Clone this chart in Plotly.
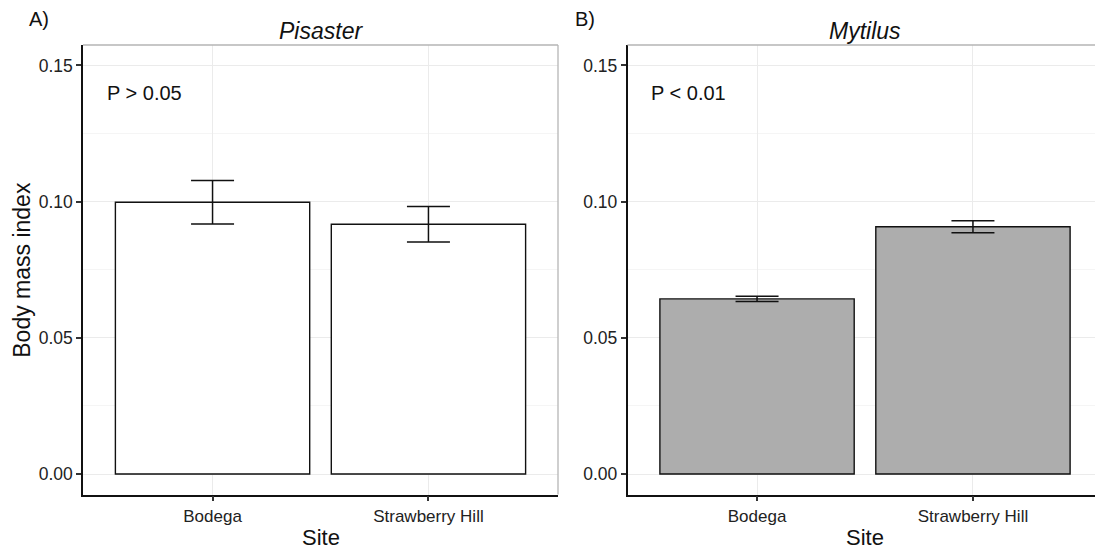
import plotly.graph_objects as go

# Body mass index by site for the two species
sites = ["Bodega", "Strawberry Hill"]
pisaster_mean = [0.0998, 0.0917]
pisaster_se = [0.0080, 0.0065]
mytilus_mean = [0.0643, 0.0908]
mytilus_se = [0.0010, 0.0022]
y_ticks = [0.0, 0.05, 0.10, 0.15]
y_tick_labels = ["0.00", "0.05", "0.10", "0.15"]

W, H = 1095, 552
FONT = "Liberation Sans, Arial, sans-serif"


def px(x):
    return x / W


def py(y):
    return 1 - y / H


# panel geometry (pixels)
A_L, A_R = 83, 558
B_L = 627.5
TOP, BOT = 45, 494.5
full_w = A_R - A_L
b_hi = -0.6 + 2.2 * (W - B_L) / full_w

fig = go.Figure()

bar_common = dict(
    x=sites,
    width=0.9,
    marker_line=dict(color="#111111", width=1.4),
)
err_common = dict(type="data", visible=True, color="#111111", thickness=1.5, width=21.5)

fig.add_trace(go.Bar(
    **bar_common, y=pisaster_mean, marker_color="white",
    error_y=dict(array=pisaster_se, **err_common),
    xaxis="x", yaxis="y", showlegend=False,
))
fig.add_trace(go.Bar(
    **bar_common, y=mytilus_mean, marker_color="#ADADAD",
    error_y=dict(array=mytilus_se, **err_common),
    xaxis="x2", yaxis="y2", showlegend=False,
))

xaxis_common = dict(
    type="category",
    showgrid=True, gridcolor="#EBEBEB", gridwidth=1,
    showline=True, linecolor="#111111", linewidth=1.5,
    ticks="outside", ticklen=5, tickwidth=1.5, tickcolor="#333333",
    tickfont=dict(family=FONT, size=17, color="#222222"),
    zeroline=False, automargin=False, fixedrange=True,
)
yaxis_common = dict(
    range=[-0.0075, 0.1575],
    tickvals=y_ticks, ticktext=y_tick_labels,
    showgrid=True, gridcolor="#EBEBEB", gridwidth=1,
    minor=dict(dtick=0.025, tick0=0, showgrid=True, gridcolor="#F5F5F5", gridwidth=1, ticks=""),
    showline=True, linecolor="#111111", linewidth=1.5,
    ticks="outside", ticklen=5, tickwidth=1.5, tickcolor="#333333",
    tickfont=dict(family=FONT, size=17.5, color="#222222"),
    zeroline=False, automargin=False, fixedrange=True,
)

fig.update_layout(
    width=W, height=H,
    margin=dict(l=0, r=0, t=0, b=0),
    paper_bgcolor="white", plot_bgcolor="white",
    bargap=0.1,
    xaxis=dict(**xaxis_common, domain=[px(A_L), px(A_R)], range=[-0.6, 1.6], anchor="y"),
    yaxis=dict(**yaxis_common, domain=[py(BOT), py(TOP)], anchor="x"),
    xaxis2=dict(**xaxis_common, domain=[px(B_L), 1.0], range=[-0.6, b_hi], anchor="y2"),
    yaxis2=dict(**yaxis_common, domain=[py(BOT), py(TOP)], anchor="x2"),
    font=dict(family=FONT, color="#111111"),
)

# light panel border along the top and the right edge of panel A
border = dict(color="#B5B5B5", width=1.3)
fig.add_shape(type="line", xref="paper", yref="paper",
              x0=px(A_L), x1=px(A_R), y0=py(TOP), y1=py(TOP), line=border)
fig.add_shape(type="line", xref="paper", yref="paper",
              x0=px(A_R), x1=px(A_R), y0=py(TOP), y1=py(BOT), line=border)
fig.add_shape(type="line", xref="paper", yref="paper",
              x0=px(B_L), x1=1.0, y0=py(TOP), y1=py(TOP), line=border)


def label(text, x, y, size, **kw):
    fig.add_annotation(text=text, x=px(x), y=py(y), xref="paper", yref="paper",
                       showarrow=False, font=dict(family=FONT, size=size, color="#111111"),
                       **kw)


label("A)", 27, 19, 20, xanchor="left", yanchor="middle")
label("B)", 573, 19, 20, xanchor="left", yanchor="middle")
label("<i>Pisaster</i>", (A_L + A_R) / 2, 31, 23, xanchor="center", yanchor="middle")
b_mid = B_L + full_w / 2
label("<i>Mytilus</i>", b_mid, 31, 23, xanchor="center", yanchor="middle")
label("Body mass index", 22, (TOP + BOT) / 2, 23, xanchor="center", yanchor="middle", textangle=-90)
label("Site", (A_L + A_R) / 2, 537, 22, xanchor="center", yanchor="middle")
label("Site", b_mid, 537, 22, xanchor="center", yanchor="middle")

fig.add_annotation(text="P > 0.05", x=-0.5, y=0.14, xref="x", yref="y",
                   showarrow=False, xanchor="left", yanchor="middle",
                   font=dict(family=FONT, size=20, color="#111111"))
fig.add_annotation(text="P < 0.01", x=-0.5, y=0.14, xref="x2", yref="y2",
                   showarrow=False, xanchor="left", yanchor="middle",
                   font=dict(family=FONT, size=20, color="#111111"))

fig.write_html("out.html", config={"displayModeBar": False})
